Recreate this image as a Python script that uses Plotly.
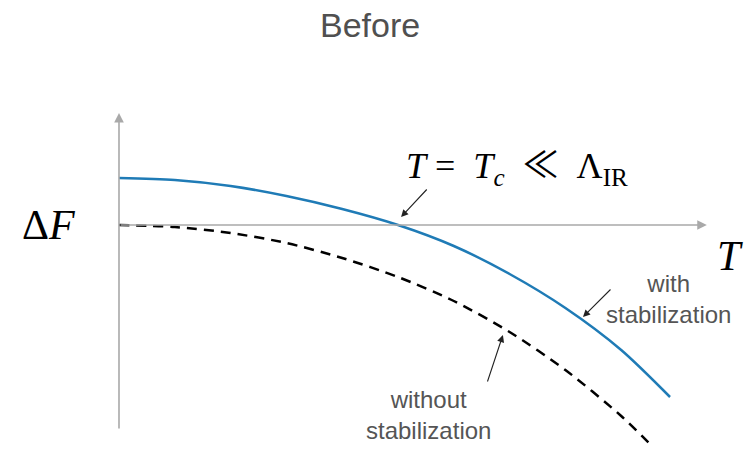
import plotly.graph_objects as go

# Free-energy difference vs temperature (T in units of T_c)
t_with = [0.0, 0.2, 0.4, 0.6, 0.8, 1.0, 1.2, 1.4, 1.6, 1.8, 1.975]
df_with = [0.47, 0.45, 0.39, 0.29, 0.16, 0.0, -0.21, -0.49, -0.83, -1.25, -1.72]

t_without = [0.0, 0.2, 0.4, 0.6, 0.8, 1.0, 1.2, 1.4, 1.6, 1.8, 1.91]
df_without = [0.0, -0.02, -0.08, -0.18, -0.33, -0.52, -0.76, -1.07, -1.45, -1.91, -2.21]

# Axis extents
t_axis_end = 2.107
df_axis_top = 1.12
df_axis_bottom = -2.05

GRAY_TXT = "#555555"
AXIS_CLR = "#a9a9a9"
SANS = "Liberation Sans, Arial, sans-serif"
SERIF = "Liberation Serif, Times New Roman, serif"

fig = go.Figure()

fig.add_trace(go.Scatter(
    x=t_with, y=df_with, mode="lines",
    line=dict(color="#1f7bb6", width=2.5, shape="spline", smoothing=0.8),
    hoverinfo="skip", showlegend=False))
fig.add_trace(go.Scatter(
    x=t_without, y=df_without, mode="lines",
    line=dict(color="black", width=2.5, dash="10px,7px", shape="spline", smoothing=0.8),
    hoverinfo="skip", showlegend=False))

ann = []

# Axes drawn as arrows
ann.append(dict(x=0, y=df_axis_top, ax=0, ay=df_axis_bottom, xref="x", yref="y",
                axref="x", ayref="y", showarrow=True, arrowhead=2, arrowsize=1.2,
                arrowwidth=1.6, arrowcolor=AXIS_CLR, text=""))
ann.append(dict(x=t_axis_end, y=0, ax=0, ay=0, xref="x", yref="y",
                axref="x", ayref="y", showarrow=True, arrowhead=2, arrowsize=1.2,
                arrowwidth=1.6, arrowcolor=AXIS_CLR, text=""))

# Pointer arrows
pointers = [
    ((1.011, 0.08), (1.108, 0.37)),
    ((1.663, -0.92), (1.767, -0.63)),
    ((1.376, -1.10), (1.319, -1.58)),
]
for (hx, hy), (tx, ty) in pointers:
    ann.append(dict(x=hx, y=hy, ax=tx, ay=ty, xref="x", yref="y", axref="x", ayref="y",
                    showarrow=True, arrowhead=2, arrowsize=1.3, arrowwidth=1.1,
                    arrowcolor="#222222", text=""))

# Labels
ann.append(dict(x=0.90, y=2.0, xref="x", yref="y", text="Before", showarrow=False,
                font=dict(family=SANS, size=34, color="#505050"), xanchor="center", yanchor="middle"))
formula = ("<i>T</i>&nbsp;=&nbsp;&nbsp;<i>T</i><sub><i>c</i></sub>&nbsp;&nbsp;"
           "<span style='font-family:Noto Sans CJK JP'>≪</span>&nbsp;&nbsp;Λ<sub>IR</sub>")
ann.append(dict(x=1.022, y=0.62, xref="x", yref="y", text=formula,
                showarrow=False, font=dict(family=SERIF, size=36, color="black"),
                xanchor="left", yanchor="middle"))
ann.append(dict(x=-0.254, y=0.0, xref="x", yref="y", text="Δ<i>F</i>", showarrow=False,
                font=dict(family=SERIF, size=42, color="black"), xanchor="center", yanchor="middle"))
ann.append(dict(x=2.19, y=-0.31, xref="x", yref="y", text="<i>T</i>", showarrow=False,
                font=dict(family=SERIF, size=42, color="black"), xanchor="center", yanchor="middle"))
ann.append(dict(x=1.968, y=-0.74, xref="x", yref="y", text="with<br>stabilization",
                showarrow=False, font=dict(family=SANS, size=24, color=GRAY_TXT),
                xanchor="center", yanchor="middle", align="center"))
ann.append(dict(x=1.111, y=-1.90, xref="x", yref="y", text="without<br>stabilization",
                showarrow=False, font=dict(family=SANS, size=24, color=GRAY_TXT),
                xanchor="center", yanchor="middle", align="center"))

fig.update_layout(
    width=749, height=449,
    margin=dict(l=0, r=0, t=0, b=0),
    paper_bgcolor="white", plot_bgcolor="white",
    annotations=ann,
    xaxis=dict(range=[-119 / 279, 630 / 279], visible=False, fixedrange=True),
    yaxis=dict(range=[-2.24, 2.25], visible=False, fixedrange=True),
)

fig.write_html("out.html")
